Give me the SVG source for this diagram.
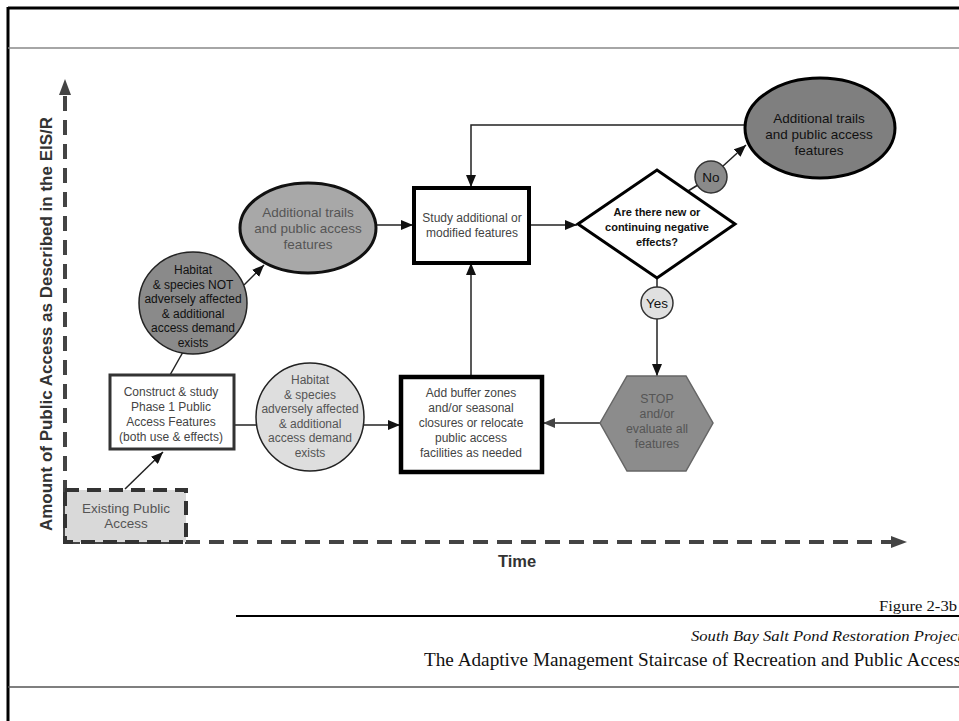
<svg xmlns="http://www.w3.org/2000/svg" width="959" height="721" viewBox="0 0 959 721">
<defs>
<style>
.t{font-family:"Liberation Sans",Arial,sans-serif;text-anchor:middle}
.s12{font-size:12px}
.s13{font-size:13.5px}
.g{fill:#555}
.d{fill:#111}
.m{fill:#444}
.ln{stroke:#222;stroke-width:1.5;fill:none}
.axis{stroke:#444;stroke-width:4;stroke-dasharray:15 9;fill:none}
.serif{font-family:"Liberation Serif","Times New Roman",serif;text-anchor:end;fill:#111}
</style>
<marker id="ah" viewBox="0 0 12 10" refX="12" refY="5" markerWidth="12" markerHeight="10" markerUnits="userSpaceOnUse" orient="auto"><path d="M0,0 L12,5 L0,10 z" fill="#111"/></marker>
<marker id="ahg" viewBox="0 0 12 10" refX="12" refY="5" markerWidth="12" markerHeight="10" markerUnits="userSpaceOnUse" orient="auto"><path d="M0,0 L12,5 L0,10 z" fill="#444"/></marker>
<marker id="axa" viewBox="0 0 16 12" refX="1" refY="6" markerWidth="16" markerHeight="12" markerUnits="userSpaceOnUse" orient="auto"><path d="M0,0 L16,6 L0,12 z" fill="#444"/></marker>
</defs>
<rect width="959" height="721" fill="#fff"/>
<g id="frame">
<line x1="8" y1="8" x2="959" y2="8" stroke="#000" stroke-width="3"/>
<line x1="8" y1="7" x2="8" y2="721" stroke="#000" stroke-width="3"/>
<line x1="8" y1="48" x2="959" y2="48" stroke="#888" stroke-width="1.5"/>
<line x1="8" y1="687" x2="959" y2="687" stroke="#555" stroke-width="1.5"/>
</g>
<g id="axes">
<path class="axis" d="M65,543 V94" marker-end="url(#axa)"/>
<path class="axis" d="M65,542 H892" marker-end="url(#axa)"/>
<text transform="translate(52,324) rotate(-90)" class="t" font-size="17" font-weight="bold" fill="#333">Amount of Public Access as Described in the EIS/R</text>
<text x="517" y="567" class="t" font-size="16.5" font-weight="bold" fill="#333">Time</text>
</g>
<g id="connectors">
<line class="ln" x1="125" y1="489" x2="163" y2="452" marker-end="url(#ah)"/>
<line class="ln" x1="170" y1="375" x2="183" y2="352"/>
<line class="ln" x1="244" y1="285" x2="264" y2="265" marker-end="url(#ah)"/>
<line class="ln" x1="377" y1="225" x2="413" y2="225" marker-end="url(#ah)"/>
<line class="ln" x1="234" y1="425" x2="256" y2="425"/>
<line class="ln" x1="364" y1="425" x2="400" y2="425" marker-end="url(#ah)"/>
<line class="ln" x1="471" y1="376" x2="471" y2="263" marker-end="url(#ah)"/>
<line class="ln" x1="529" y1="225" x2="577" y2="225" marker-end="url(#ah)"/>
<polyline class="ln" points="688,191 711,177"/>
<line class="ln" x1="711" y1="177" x2="746" y2="145" marker-end="url(#ah)"/>
<polyline class="ln" points="746,125 471,125 471,187" marker-end="url(#ah)"/>
<line class="ln" x1="657" y1="278" x2="657" y2="376" marker-end="url(#ah)"/>
<line class="ln" x1="600" y1="423" x2="543" y2="423" stroke="#444" marker-end="url(#ahg)"/>
</g>
<g id="existing">
<rect x="65" y="490" width="121" height="52" fill="#d9d9d9" stroke="#333" stroke-width="4" stroke-dasharray="14 8"/>
<text class="t g s13" x="126" y="513">Existing Public</text>
<text class="t g s13" x="126" y="528">Access</text>
</g>
<g id="construct">
<rect x="110" y="375" width="124" height="74" fill="#fff" stroke="#333" stroke-width="3"/>
<text class="t m s12" x="171" y="396">Construct &amp; study</text>
<text class="t m s12" x="171" y="411">Phase 1 Public</text>
<text class="t m s12" x="171" y="426">Access Features</text>
<text class="t m s12" x="171" y="441">(both use &amp; effects)</text>
</g>
<g id="habitat-not">
<ellipse cx="193" cy="303" rx="54" ry="51" fill="#8a8a8a" stroke="#222" stroke-width="1.5"/>
<text class="t d s12" x="193" y="274">Habitat</text>
<text class="t d s12" x="193" y="288.5">&amp; species NOT</text>
<text class="t d s12" x="193" y="303">adversely affected</text>
<text class="t d s12" x="193" y="317.5">&amp; additional</text>
<text class="t d s12" x="193" y="332">access demand</text>
<text class="t d s12" x="193" y="346.5">exists</text>
</g>
<g id="trails-left">
<ellipse cx="308" cy="228" rx="68" ry="45" fill="#a8a8a8" stroke="#111" stroke-width="3"/>
<text class="t g s13" x="308" y="217">Additional trails</text>
<text class="t g s13" x="308" y="233">and public access</text>
<text class="t g s13" x="308" y="249">features</text>
</g>
<g id="habitat-affected">
<circle cx="310" cy="417" r="54" fill="#dedede" stroke="#222" stroke-width="1.5"/>
<text class="t g s12" x="310" y="384">Habitat</text>
<text class="t g s12" x="310" y="398.5">&amp; species</text>
<text class="t g s12" x="310" y="413">adversely affected</text>
<text class="t g s12" x="310" y="427.5">&amp; additional</text>
<text class="t g s12" x="310" y="442">access demand</text>
<text class="t g s12" x="310" y="456.5">exists</text>
</g>
<g id="study">
<rect x="414" y="188" width="115" height="75" fill="#fff" stroke="#000" stroke-width="4"/>
<text class="t m s12" x="472" y="222">Study additional or</text>
<text class="t m s12" x="472" y="237">modified features</text>
</g>
<g id="buffer">
<rect x="401" y="377" width="141" height="95" fill="#fff" stroke="#000" stroke-width="4.5"/>
<text class="t m s12" x="471" y="397">Add buffer zones</text>
<text class="t m s12" x="471" y="412">and/or seasonal</text>
<text class="t m s12" x="471" y="427">closures or relocate</text>
<text class="t m s12" x="471" y="442">public access</text>
<text class="t m s12" x="471" y="457">facilities as needed</text>
</g>
<g id="decision">
<polygon points="578,224 657,170 735,224 657,278" fill="#fff" stroke="#000" stroke-width="3"/>
<text class="t d" font-size="11" font-weight="bold" x="657" y="216">Are there new or</text>
<text class="t d" font-size="11" font-weight="bold" x="657" y="231">continuing negative</text>
<text class="t d" font-size="11" font-weight="bold" x="657" y="246">effects?</text>
</g>
<g id="no">
<circle cx="711" cy="177" r="16" fill="#8a8a8a" stroke="#333" stroke-width="1.5"/>
<text class="t d s13" x="711" y="182">No</text>
</g>
<g id="yes">
<circle cx="657" cy="303" r="16" fill="#e0e0e0" stroke="#333" stroke-width="1.5"/>
<text class="t d s13" x="657" y="308">Yes</text>
</g>
<g id="trails-right">
<ellipse cx="820" cy="128" rx="75" ry="50" fill="#7f7f7f" stroke="#000" stroke-width="3"/>
<text class="t d s13" x="819" y="123">Additional trails</text>
<text class="t d s13" x="819" y="139">and public access</text>
<text class="t d s13" x="819" y="155">features</text>
</g>
<g id="stop">
<polygon points="600,423 627,376 686,376 713,423 686,471 627,471" fill="#8c8c8c" stroke="#666" stroke-width="1.5"/>
<text class="t g" font-size="12.3" x="657" y="403">STOP</text>
<text class="t g" font-size="12.3" x="657" y="418">and/or</text>
<text class="t g" font-size="12.3" x="657" y="433">evaluate all</text>
<text class="t g" font-size="12.3" x="657" y="448">features</text>
</g>
<g id="footer">
<line x1="236" y1="616" x2="959" y2="616" stroke="#000" stroke-width="2"/>
<text class="serif" x="957" y="611" font-size="14" textLength="78" lengthAdjust="spacingAndGlyphs">Figure 2-3b</text>
<text class="serif" x="962" y="641" font-size="15" font-style="italic" textLength="271" lengthAdjust="spacingAndGlyphs">South Bay Salt Pond Restoration Project</text>
<text class="serif" x="961" y="666" font-size="18.5" textLength="537" lengthAdjust="spacingAndGlyphs">The Adaptive Management Staircase of Recreation and Public Access</text>
</g>
</svg>
